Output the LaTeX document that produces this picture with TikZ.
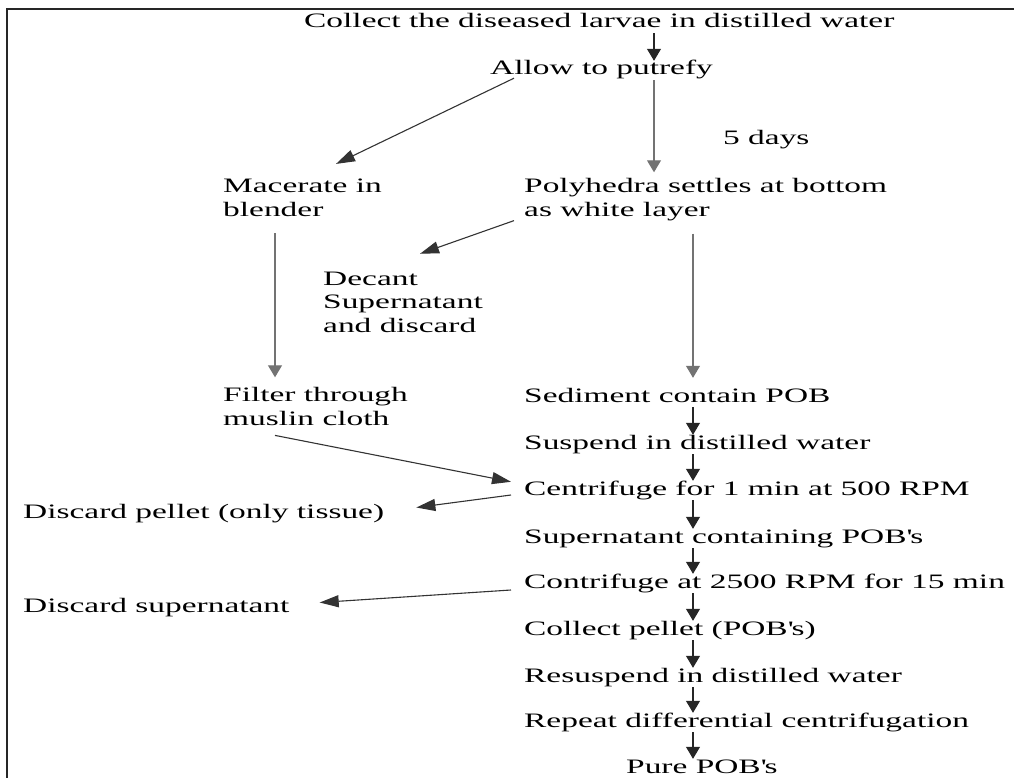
\documentclass[tikz,border=0pt]{standalone}
\usepackage{fontspec}
\setmainfont{Liberation Serif}[FakeStretch=1.63]
\usetikzlibrary{arrows.meta}

\begin{document}
\begin{tikzpicture}[
    x=1pt, y=-1pt,
    font=\fontsize{20.5}{23.3}\selectfont,
    stage/.style={inner sep=0pt, text height=14pt, text depth=5pt, anchor=base west},
    stagetwo/.style={inner sep=0pt, align=left, anchor=base west},
    down/.style={-{Triangle[length=12pt, width=14pt]}, line width=1.1pt, black!85},
    longdown/.style={down, black!55},
    side/.style={-{Triangle[length=19pt, width=12pt]}, line width=1.1pt, black!80},
    frame/.style={line width=2.5pt, black!85}
]

\useasboundingbox (0,0) rectangle (1014,778);

% Frame
\draw[frame] (1014,9) -- (7,9) -- (7,778);

% Columns of the arrows
\coordinate (colL) at (275,0);
\coordinate (colM) at (654,0);
\coordinate (colR) at (693,0);

% Steps (two-line nodes sit on their last line)
\node[stage] (collect) at (304,28) {Collect the diseased larvae in distilled water};
\node[stage] (allow) at (490,75) {Allow to putrefy};
\node[stage] (days) at (723,145) {5 days};
\node[stagetwo] (macerate) at (223,216) {Macerate in\\blender};
\node[stagetwo] (polyhedra) at (524,216) {Polyhedra settles at bottom\\as white layer};
\node[stagetwo] (decant) at (323,332) {Decant\\Supernatant\\and discard};
\node[stagetwo] (filter) at (223,425) {Filter through\\muslin cloth};
\node[stage] (sediment) at (524,402) {Sediment contain POB};
\node[stage] (suspend) at (524,449) {Suspend in distilled water};
\node[stage] (centrifuge) at (524,495) {Centrifuge for 1 min at 500 RPM};
\node[stage] (pellet) at (23,518) {Discard pellet (only tissue)};
\node[stage] (superpob) at (524,543) {Supernatant containing POB\textquotesingle s};
\node[stage] (contrifuge) at (524,588) {Contrifuge at 2500 RPM for 15 min};
\node[stage] (discardsup) at (23,612) {Discard supernatant};
\node[stage] (collectpellet) at (524,635) {Collect pellet (POB\textquotesingle s)};
\node[stage] (resuspend) at (524,682) {Resuspend in distilled water};
\node[stage] (repeat) at (524,727) {Repeat differential centrifugation};
\node[stage, text depth=0pt] (pure) at (626,773) {Pure POB\textquotesingle s};

% Top part
\draw[down] (collect.south -| colM) -- (allow.north -| colM);
\draw[side] ([shift={(24,-2)}]allow.south west) -- ([shift={(113,-15)}]macerate.north west);
\draw[longdown, shorten >=6pt] (allow.south -| colM) -- (polyhedra.north -| colM);
\draw[side] ([shift={(-10,0)}]polyhedra.south west) -- ([shift={(97,-18)}]decant.north west);
\draw[longdown, shorten <=17pt, shorten >=10pt] (macerate.south -| colL) -- (filter.north -| colL);
\draw[longdown, shorten <=13pt, shorten >=10pt] (polyhedra.south -| colR) -- (sediment.north -| colR);

% Purification
\draw[down] (sediment.south -| colR) -- (suspend.north -| colR);
\draw[down] (suspend.south -| colR) -- (centrifuge.north -| colR);
\draw[side] ([shift={(52,10)}]filter.south west) -- ([shift={(-13,1)}]centrifuge.north west);
\draw[side] ([shift={(-13,0)}]centrifuge.base west) -- ([shift={(32,-6)}]pellet.east);
\draw[down] (centrifuge.south -| colR) -- (superpob.north -| colR);
\draw[down] (superpob.south -| colR) -- (contrifuge.north -| colR);
\draw[side] ([shift={(-13,2)}]contrifuge.base west) -- ([shift={(30,-5)}]discardsup.east);
\draw[down] (contrifuge.south -| colR) -- (collectpellet.north -| colR);
\draw[down] (collectpellet.south -| colR) -- (resuspend.north -| colR);
\draw[down] (resuspend.south -| colR) -- (repeat.north -| colR);
\draw[down] (repeat.south -| colR) -- (pure.north -| colR);

\end{tikzpicture}
\end{document}
